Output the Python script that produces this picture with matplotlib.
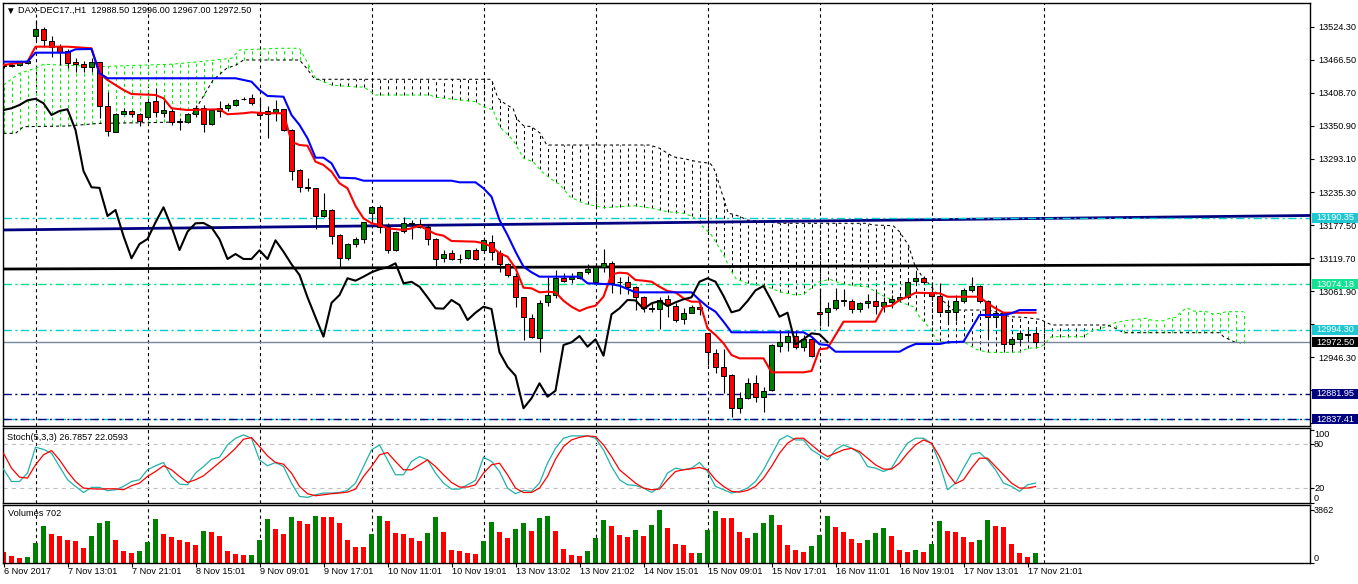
import numpy as np
import matplotlib
matplotlib.use("Agg")
import matplotlib.pyplot as plt
from matplotlib import transforms
from matplotlib.patches import Rectangle

plt.rcParams['font.family'] = ['Liberation Sans', 'DejaVu Sans']
plt.rcParams['lines.scale_dashes'] = False

# ---------------- data (hourly DAX-DEC17 bars, 6-17 Nov 2017) ----------------
opens = np.array([
    13458, 13456, 13457.8, 13461.3, 13509, 13520.8, 13500.3, 13489.8, 13482.3, 13463.5,
    13459, 13454.8, 13462.5, 13386.5, 13340.9, 13372.4, 13376.7, 13372.4, 13366.2, 13394.7,
    13374.2, 13377.7, 13360.2, 13358.4, 13371.4, 13383, 13353.9, 13377.7, 13381.9, 13387.7,
    13397.5, 13399.4, 13376, 13372.4, 13376, 13380.2, 13343.9, 13273.9, 13243.5, 13241.8,
    13193.8, 13203.8, 13159.9, 13119.2, 13143.7, 13153, 13199.1, 13208.5, 13173.5, 13133.7,
    13167, 13180, 13178.7, 13173.5, 13152.5, 13119.2, 13127.9, 13118.5, 13119.2, 13133.2,
    13133.7, 13148.3, 13127.9, 13108.7, 13088.7, 13050.9, 13014.1, 12980.2, 13043.2, 13054.9,
    13084.2, 13082.4, 13084.2, 13094.7, 13078.2, 13103.4, 13110.4, 13078.5, 13078.2, 13069.4,
    13050.9, 13031.5, 13030.4, 13047.9, 13036.2, 13012.9, 13023.9, 13034.4, 12987.8, 12952.8,
    12929.3, 12914.8, 12856.5, 12874, 12900.3, 12876.8, 12888.5, 12966.1, 12973.1, 12983.1,
    12964.4, 12977.8, 13024.6, 13025.7, 13031.6, 13045, 13045, 13030.4, 13040.4, 13044.4,
    13035.6, 13042.1, 13047.4, 13050.9, 13080, 13084.2, 13060.7, 13053.2, 13024.6, 13025.7,
    13044.4, 13063.1, 13070.7, 13045, 13015.9, 13023.9, 12968.6, 12977.3, 12985.5, 12988.5])
highs = np.array([
    13461, 13461, 13465, 13470, 13536.6, 13524.8, 13508.5, 13494, 13485.8, 13470,
    13464.8, 13470, 13463.5, 13411, 13373.7, 13381.9, 13378.9, 13374.2, 13396.4, 13417.5,
    13396.4, 13380.2, 13364.9, 13373.2, 13387.7, 13387.7, 13380, 13394.7, 13390.7, 13397.7,
    13402.2, 13407, 13400, 13386.5, 13396.4, 13381, 13345, 13275.6, 13259.8, 13242.3,
    13233.6, 13205.5, 13161, 13146, 13157, 13183.3, 13209.6, 13212.5, 13180.5, 13167,
    13192.1, 13186.3, 13188, 13178.7, 13154.2, 13133.7, 13133.7, 13126.2, 13133.7, 13136.7,
    13157, 13160, 13133.7, 13111, 13092.9, 13052, 13021.6, 13046.2, 13087, 13098.7,
    13092.9, 13092.9, 13095.7, 13108.7, 13110.4, 13135, 13115, 13087, 13088.7, 13071.2,
    13053.2, 13040.4, 13052, 13054.9, 13040.4, 13031.6, 13037.4, 13037.4, 12989, 12959.8,
    12959.8, 12916, 12884.5, 12909, 12914.8, 12893.2, 12968.5, 12993.6, 12993.6, 12993.6,
    12984.9, 12981.9, 13066.6, 13042.1, 13067.7, 13065.4, 13047.9, 13043.2, 13056.1, 13060.7,
    13052, 13054.9, 13053.7, 13081.2, 13092.9, 13088.7, 13078.2, 13075.4, 13046.2, 13054.9,
    13066.6, 13087, 13072.4, 13046.2, 13037.4, 13025.7, 12981.9, 12993.6, 12993.6, 12996])
lows = np.array([
    13452, 13454, 13456, 13459, 13501.5, 13489.8, 13471.2, 13457.8, 13452.5, 13446,
    13446, 13446, 13364.4, 13333.9, 13339.9, 13371.4, 13367.2, 13350.9, 13364.4, 13367.2,
    13367.2, 13352.7, 13343.9, 13355.6, 13367.2, 13340.9, 13352.7, 13367.2, 13377.2, 13386.5,
    13395.9, 13387.7, 13367.2, 13329.4, 13359.7, 13342.1, 13256.3, 13235.9, 13237.1, 13170.5,
    13192.1, 13144.2, 13102.7, 13116.2, 13138.4, 13145.5, 13181, 13163, 13128, 13132,
    13163, 13153, 13171.7, 13142.5, 13106.2, 13112.2, 13116.2, 13110.4, 13118, 13116.2,
    13130.8, 13116.2, 13095.7, 13085.9, 13034.4, 12976.1, 12979.1, 12955.6, 13036.2, 13050.2,
    13078.2, 13075.4, 13083, 13091.7, 13075.4, 13095.7, 13057.9, 13056.1, 13056.1, 13028.6,
    13025.7, 13025.7, 12994.8, 13016.9, 13008.2, 13003.6, 13022.9, 13019.9, 12932.3, 12917.8,
    12882.7, 12841.8, 12847.7, 12872.8, 12868, 12850.5, 12886.8, 12954.5, 12957.3, 12959.8,
    12957.3, 12946.9, 13001.1, 13001.1, 13028.6, 13036.2, 13022.9, 13024.6, 13031.6, 13021.6,
    13025.7, 13031.6, 13044.4, 13049.1, 13075.4, 13073.6, 13046.2, 13022.9, 13003.6, 13009.4,
    13040.4, 13060.7, 13040.4, 12979.1, 12999.4, 12959.8, 12959.8, 12970.4, 12977, 12967])
closes = np.array([
    13456, 13458, 13463.5, 13465, 13520.8, 13501.5, 13488.8, 13481, 13460.7, 13459.5,
    13454.8, 13462.5, 13385.9, 13342.1, 13372.4, 13377.2, 13372.4, 13359.7, 13392.4, 13374.9,
    13378.4, 13358.4, 13357.4, 13371.4, 13383, 13353.9, 13378.9, 13381.9, 13387.7, 13395.9,
    13398.5, 13390.7, 13370.2, 13377.2, 13380.2, 13343.9, 13272.1, 13243.6, 13242.5, 13193.3,
    13203.8, 13158.2, 13119.2, 13144.2, 13153, 13182.2, 13208.5, 13174.5, 13133.7, 13165.8,
    13180.5, 13181, 13173.5, 13152.5, 13118, 13126.7, 13118, 13118, 13133.2, 13118,
    13150.7, 13130.8, 13108.7, 13090, 13050.9, 13015.9, 12981.9, 13041.1, 13054.9, 13084.2,
    13080, 13087, 13094.7, 13100, 13103.4, 13110.4, 13075.4, 13078, 13069.4, 13050.9,
    13031.6, 13031, 13046.2, 13037.4, 13011.1, 13023.9, 13034.4, 13030.4, 12954.5, 12929.3,
    12913.6, 12856.5, 12874, 12900.3, 12876.8, 12887.3, 12967.3, 12972.1, 12983.1, 12964.4,
    12977.3, 12948.6, 13021.1, 13031.6, 13046.2, 13045.5, 13030.4, 13040.4, 13044.4, 13035.6,
    13042.1, 13047.4, 13050.9, 13078.2, 13084.2, 13078.2, 13053.2, 13024.6, 13028.6, 13044.4,
    13063.1, 13070.7, 13045, 13016.9, 13023.9, 12968.6, 12977.3, 12987.8, 12986, 12972.5])
volumes = np.array([
    782, 489, 367, 415, 1442, 2688, 2102, 1955, 1686, 1589,
    1075, 1955, 2908, 3055, 1686, 855, 709, 855, 1515, 3202,
    2102, 1882, 1662, 1515, 1295, 2322, 2248, 1955, 855, 635,
    562, 587, 1662, 3202, 2468, 2102, 3348, 3055, 2835, 3422,
    3348, 3324, 2908, 1662, 1149, 1140, 2102, 3422, 3055, 2175,
    2102, 1809, 1589, 2175, 3348, 2248, 929, 855, 709, 635,
    1589, 2982, 2248, 1809, 2468, 2908, 2322, 3275, 3422, 2322,
    1026, 562, 489, 855, 1809, 3128, 2688, 2028, 1882, 2395,
    1955, 2762, 3862, 2542, 1369, 1295, 709, 733, 2395, 3788,
    3275, 3270, 2248, 1809, 2175, 2908, 3495, 2762, 1295, 929,
    782, 1222, 2028, 3422, 2615, 2248, 1735, 1442, 1662, 2175,
    2542, 1955, 929, 782, 929, 782, 1369, 3055, 2322, 2248,
    1882, 1540, 1662, 3128, 2688, 2615, 1369, 709, 415, 702])
stoch_k = np.array([
    45.9, 29, 29, 40.5, 75.9, 73, 67.7, 49.5, 31.4, 22.3,
    14, 21, 21, 16.4, 17.7, 22.3, 29, 31.4, 45, 50.5,
    55, 35.9, 25.5, 24.5, 40.5, 49.5, 59.5, 62.3, 79, 88.2,
    92.7, 88.2, 58.6, 50.5, 55, 49.5, 26.8, 8.6, 7.3, 10.9,
    13.2, 13.2, 14, 16.8, 26.8, 49.5, 72.3, 79, 58.6, 38.2,
    38.2, 56.4, 63.2, 58.6, 40.5, 26.8, 18.6, 18.6, 24.5, 30.5,
    62.3, 56.4, 42.7, 20, 12.3, 16.8, 15.5, 26.8, 54.1, 74.5,
    88.2, 91.4, 91.4, 91.4, 88.2, 72.3, 49.5, 31.4, 24.5, 23.6,
    20, 14.1, 20.9, 40.5, 47.3, 45, 47.3, 55, 42.7, 22.3,
    17.7, 13.2, 15.5, 20, 29.1, 45, 65.5, 85.9, 91.8, 85.9,
    85.9, 72.3, 65.5, 58.6, 72.3, 79.1, 74.5, 67.7, 49.5, 47.3,
    42.7, 47.3, 65.5, 81.4, 88.2, 88.2, 81.4, 54.1, 17.7, 26.8,
    47.3, 66.4, 68.6, 58.6, 45, 26.8, 22.3, 15.5, 24.5, 26.79])
stoch_d = np.array([
    67.7, 47.3, 35, 33.6, 51.8, 65.5, 71.4, 58.6, 42.7, 29,
    20, 19, 18.6, 19, 19, 17.7, 23.2, 26.8, 35.9, 42.7,
    50.5, 45, 35.9, 27.7, 31.4, 36.8, 45.9, 55, 64.1, 74.5,
    86.8, 89.1, 76.8, 64.1, 55, 52.7, 40.5, 22.3, 12.3, 9.5,
    10.9, 12.3, 13.2, 14.5, 18.6, 35.9, 49.5, 65.5, 68.6, 56.4,
    45, 45, 51.8, 58.6, 49.5, 38.2, 27.7, 21.4, 21.4, 24.5,
    40.5, 51.8, 54.1, 38.2, 20, 14, 14, 20, 36, 59.5,
    76.8, 85.9, 89.5, 91.4, 90.5, 79.1, 63.2, 45, 35.9, 26.8,
    20, 17.7, 18.6, 31.4, 42.7, 45, 46.4, 48.2, 45, 31.4,
    22.3, 15.5, 14.5, 16.8, 22.3, 33.6, 49.5, 67.7, 81.4, 88.2,
    88.2, 79.1, 70, 63.2, 67.7, 72.3, 74.5, 70, 60.9, 51.8,
    45.9, 45.9, 54.1, 67.7, 79.1, 85.9, 81.4, 63.2, 40.5, 25.9,
    31.4, 47.3, 60.9, 60.9, 49.5, 38.2, 26.8, 20, 20, 22.06])

# Ichimoku lines, read as (bar, price) vertices
tenkan_bar = [0, 3, 4, 8, 11, 12, 13, 15, 16, 19, 20, 21, 23, 27, 28, 30, 31, 33, 35, 36, 37, 38, 39, 40,
              41, 42, 43, 44, 45, 46, 47, 48, 50, 51, 52, 53, 54, 55, 56, 59, 60, 61, 62, 63, 64, 65,
              66, 67, 68, 69, 70, 71, 72, 73, 74, 75, 76, 77, 78, 79, 80, 81, 82, 83, 84, 85, 86, 87,
              88, 89, 90, 91, 92, 95, 96, 100, 101, 102, 103, 104, 105, 109, 110, 111, 112, 113, 114,
              117, 118, 122, 123, 124, 125, 129]
tenkan_val = [13457.8, 13463.5, 13489.8, 13489.8, 13487.0, 13443.2, 13431.5, 13413.9, 13406.9, 13405.2,
              13399.4, 13381.9, 13378.9, 13380.2, 13371.4, 13373.2, 13374.9, 13373.2, 13373.2, 13323.4,
              13317.6, 13316.4, 13288.4, 13282.6, 13270.9, 13250.6, 13241.8, 13210.8, 13189.2, 13180.5,
              13177.5, 13171.7, 13168.8, 13171.7, 13176.3, 13168.8, 13161.7, 13158.8, 13149.5, 13148.3,
              13145.5, 13139.5, 13128.0, 13122.0, 13101.7, 13067.7, 13066.6, 13059.6, 13060.7, 13059.6,
              13044.9, 13034.4, 13026.9, 13032.7, 13036.2, 13051.9, 13091.2, 13094.0, 13092.9, 13081.2,
              13080.0, 13078.2, 13069.4, 13061.9, 13059.6, 13049.1, 13043.2, 13043.2, 12996.6, 12984.9,
              12970.3, 12949.8, 12944.0, 12944.0, 12919.5, 12919.5, 12921.8, 12959.8, 12961.5, 12984.9,
              13008.2, 13008.2, 13034.4, 13036.2, 13046.2, 13051.9, 13058.9, 13057.9, 13051.9, 13051.9,
              13040.4, 13031.6, 13023.9, 13023.9]
kijun_bar = [0, 3, 4, 8, 9, 11, 12, 13, 29, 31, 32, 33, 35, 36, 37, 38, 39, 40, 41, 42, 44, 45, 56, 57,
             59, 60, 61, 62, 63, 64, 65, 66, 67, 72, 73, 76, 77, 78, 79, 86, 87, 88, 89, 90, 91, 100,
             101, 102, 103, 104, 112, 113, 114, 117, 118, 120, 121, 122, 125, 126, 127, 129]
kijun_val = [13463.5, 13463.5, 13479.3, 13479.3, 13485.2, 13485.8, 13443.2, 13434.5, 13434.5, 13428.5,
             13413.9, 13403.5, 13402.2, 13370.2, 13352.7, 13329.4, 13295.4, 13295.4, 13285.6, 13260.4,
             13259.3, 13255.1, 13255.1, 13252.3, 13252.3, 13241.8, 13227.1, 13186.3, 13160.0, 13130.8,
             13104.5, 13094.7, 13087.0, 13087.0, 13075.4, 13073.6, 13071.2, 13065.4, 13059.6, 13059.6,
             13046.2, 13034.4, 13025.7, 13008.2, 12989.6, 12989.6, 12981.9, 12968.6, 12967.3, 12955.6,
             12955.6, 12963.3, 12969.1, 12969.1, 12972.1, 12973.1, 12996.6, 13019.9, 13019.9, 13022.9,
             13028.6, 13028.6]
span_a_bar = [0, 2, 4, 5, 12, 18, 21, 24.5, 28.5, 29.5, 34.5, 37, 37.7, 39, 41, 44.5, 45, 46.5, 53.3,
              54, 59, 60, 61.2, 62, 63.7, 65, 66.2, 67.3, 68.3, 69.6, 70.8, 72.5, 75, 79, 81, 83, 85,
              86.2, 87, 88.5, 90, 91, 91.6, 93, 95, 96, 97, 99, 100, 102, 103.3, 104.6, 106.2, 108,
              109, 110.4, 112, 113.7, 114.5, 115.8, 116.6, 118, 120, 121.6, 123, 125.8, 127, 128,
              129.6, 130.2, 131, 135, 136.2, 137, 138.3, 139.1, 140.8, 142.9, 143.7, 145, 145.8,
              146.6, 147, 147.9, 148.7, 150.4, 151.2, 152, 152.9, 155]
span_a_val = [13422.7, 13443.2, 13452.0, 13459.0, 13454.8, 13457.8, 13459.0, 13463.5, 13469.5, 13484.0,
              13487.0, 13487.0, 13469.5, 13434.5, 13422.7, 13418.7, 13419.7, 13405.2, 13405.2, 13401.2,
              13393.5, 13384.7, 13378.9, 13349.7, 13326.4, 13294.3, 13288.4, 13270.9, 13259.3, 13247.6,
              13227.1, 13215.5, 13207.8, 13211.3, 13206.8, 13200.8, 13198.0, 13192.1, 13180.5, 13160.0,
              13125.0, 13095.7, 13082.9, 13075.4, 13071.2, 13066.6, 13060.7, 13054.9, 13056.1, 13078.2,
              13082.4, 13075.4, 13071.2, 13069.4, 13060.7, 13050.2, 13043.2, 13034.4, 13016.9, 12996.6,
              12976.1, 12970.3, 12973.1, 12959.8, 12954.5, 12954.5, 12955.1, 12961.5, 12963.3, 12970.3,
              12981.9, 12981.9, 12993.6, 12994.8, 13002.4, 13007.1, 13011.1, 13014.1, 13009.9, 13009.9,
              13014.1, 13015.9, 13022.9, 13032.7, 13026.9, 13025.7, 13021.6, 13022.9, 13025.7, 13025.7]
span_b_bar = [0, 1.5, 2.5, 8, 12, 18, 23, 24.2, 26.2, 27.9, 29.1, 30, 37, 37.9, 38.9, 61, 61.8, 62.9,
              63.7, 64.1, 65, 66, 67.1, 67.9, 80.8, 82, 83.7, 85.4, 86.7, 88.3, 88.7, 89.1, 90, 90.6,
              91.2, 92.1, 92.9, 97.1, 107.9, 108.7, 111.2, 112, 113.1, 113.9, 114.7, 115.8, 117.1,
              118.7, 122.9, 123.7, 125.8, 127.5, 128.5, 129.5, 130.2, 131, 138, 139, 140, 152, 152.5,
              153.8, 155]
span_b_val = [13338.1, 13338.1, 13349.7, 13350.9, 13355.6, 13356.7, 13358.4, 13384.7, 13431.5, 13452.0,
              13457.8, 13466.5, 13466.5, 13452.0, 13432.7, 13432.7, 13399.4, 13387.7, 13381.9, 13364.4,
              13351.4, 13349.7, 13338.1, 13317.6, 13317.6, 13311.9, 13297.1, 13292.6, 13288.4, 13285.6,
              13279.6, 13265.1, 13224.3, 13198.0, 13196.3, 13192.1, 13186.3, 13180.5, 13180.5, 13177.5,
              13176.3, 13165.8, 13142.5, 13107.5, 13090.0, 13072.4, 13049.1, 13028.6, 13028.6, 13026.9,
              13016.9, 13015.9, 13014.1, 13012.4, 13008.2, 13002.4, 13002.4, 12996.6, 12988.9, 12988.9,
              12981.9, 12973.1, 12970.3]
chikou_shift = 26

# drawn objects: two trendlines (left/right end prices) and horizontal levels
trend_navy = [13168.8, 13194.2]
trend_black = [13100.4, 13108.3]
level_prices = [13190.35, 13074.18, 12994.30, 12881.95, 12837.41]
level_colors = ['#00CED1', '#00E08C', '#00CED1', '#000080', '#000080']
label_boxes = [(13190.35, '13190.35', '#1EC8D2'), (13074.18, '13074.18', '#10E394'),
               (12994.30, '12994.30', '#1EC8D2'), (12972.50, '12972.50', '#000000'),
               (12881.95, '12881.95', '#000080'), (12837.41, '12837.41', '#000080')]
bid = 12972.50

price_ticks = [13524.30, 13466.50, 13408.70, 13350.90, 13293.10, 13235.30, 13177.50,
               13119.70, 13061.90, 13004.10, 12946.30, 12888.50, 12830.70]
# tick labels that sit fully under a price box are left blank
hidden_ticks = [13004.10, 12888.50, 12830.70]
time_bars = [0, 8, 16, 24, 32, 40, 48, 56, 64, 72, 80, 88, 96, 104, 112, 120, 128]
time_labels = ['6 Nov 2017', '7 Nov 13:01', '7 Nov 21:01', '8 Nov 15:01', '9 Nov 09:01',
               '9 Nov 17:01', '10 Nov 11:01', '10 Nov 19:01', '13 Nov 13:02', '13 Nov 21:02',
               '14 Nov 15:01', '15 Nov 09:01', '15 Nov 17:01', '16 Nov 11:01', '16 Nov 19:01',
               '17 Nov 13:01', '17 Nov 21:01']
day_bars = [4, 18, 32, 46, 60, 74, 88, 102, 116, 130]

# ---------------- figure ----------------
W, H = 1358, 584
FS = 6.6
DOT = (0, (2.2, 2.2))
fig = plt.figure(figsize=(W / 100, H / 100), dpi=100)
fig.patch.set_facecolor('white')


def px_axes(left, top, right, bottom):
    return fig.add_axes([left / W, 1 - bottom / H, (right - left) / W, (bottom - top) / H])


def fig_text(x, y, s, size=FS, **kw):
    fig.text(x / W, 1 - y / H, s, fontsize=size, **kw)


ax = px_axes(3, 3, 1310, 426)
ax_st = px_axes(3, 428.3, 1310, 502.7)
ax_vol = px_axes(3, 505.3, 1310, 562.7)

x_lim = (-0.0625, 163.31)
for a in (ax, ax_st, ax_vol):
    a.set_xlim(*x_lim)
    a.set_facecolor('white')
    for s in a.spines.values():
        s.set_color('black')
        s.set_linewidth(1)
    a.set_xticks([])
    a.yaxis.tick_right()
    a.tick_params(axis='y', length=3, width=0.8, pad=3, labelsize=FS, colors='black')
    for g in day_bars:
        a.axvline(g, color='black', lw=0.8, ls=(0, (2.3, 2.3)), zorder=1)

ax.set_ylim(12825.5, 13566.3)
ax.set_yticks(price_ticks)
ax.set_yticklabels(['' if p in hidden_ticks else f'{p:.2f}' for p in price_ticks])

bars = np.arange(len(opens))

# cloud hatching between the two senkou spans
hatch_bars = np.arange(0, 156)
a_at = np.interp(hatch_bars, span_a_bar, span_a_val)
b_at = np.interp(hatch_bars, span_b_bar, span_b_val)
hatch_cols = ['#00EE00' if a >= b else 'black' for a, b in zip(a_at, b_at)]
ax.vlines(hatch_bars, np.minimum(a_at, b_at), np.maximum(a_at, b_at), colors=hatch_cols,
          lw=0.75, linestyles=[DOT], zorder=1.5)
ax.plot(span_a_bar, span_a_val, color='#00EE00', lw=0.75, ls=DOT, zorder=1.6)
ax.plot(span_b_bar, span_b_val, color='black', lw=0.75, ls=DOT, zorder=1.6)

# drawn lines
ax.plot(x_lim, trend_navy, color='#000080', lw=2, zorder=2)
ax.plot(x_lim, trend_black, color='black', lw=2, zorder=2)
for p, c in zip(level_prices, level_colors):
    ax.axhline(p, color=c, lw=1, ls=(0, (6, 2.5, 1.5, 2.5)), zorder=2)
ax.axhline(level_prices[-1], color='#00CED1', lw=1, ls=(0, (3, 3)), zorder=1.9)
ax.axhline(bid, color='#778899', lw=1, zorder=2)

# candles
body_cols = ['#008000' if c > o else '#FF0000' for o, c in zip(opens, closes)]
ax.vlines(bars, lows, highs, color='black', lw=0.8, zorder=3)
ax.bar(bars, np.abs(closes - opens), bottom=np.minimum(opens, closes), width=0.55,
       color=body_cols, edgecolor='black', linewidth=0.7, zorder=3.1)

# ichimoku lines
ax.plot(tenkan_bar, tenkan_val, color='#FF0000', lw=1.5, zorder=4)
ax.plot(kijun_bar, kijun_val, color='#0000FF', lw=1.5, zorder=4)
ax.plot(bars[:len(bars) - chikou_shift], closes[chikou_shift:], color='black', lw=1.5, zorder=4)

# price boxes on the right scale
box_tr = transforms.blended_transform_factory(fig.transFigure, ax.transData)
ppx = (13566.3 - 12825.5) / 423.0
for p, s, c in label_boxes:
    ax.add_patch(Rectangle((1312 / W, p - 5 * ppx), 46 / W, 10 * ppx, transform=box_tr,
                           facecolor=c, edgecolor='none', clip_on=False, zorder=10))
    ax.text(1335 / W, p, s, transform=box_tr, color='white', fontsize=FS,
            ha='center', va='center', clip_on=False, zorder=11)

# stochastic
ax_st.set_ylim(0.4, 101.8)
ax_st.set_yticks([100, 80, 20, 0])
ax_st.set_yticklabels([])
for lv in (80, 20):
    ax_st.axhline(lv, color='#C0C0C0', lw=0.8, ls=(0, (3, 3)), zorder=1)
ax_st.plot(bars, stoch_k, color='#20B2AA', lw=0.9, zorder=3)
ax_st.plot(bars, stoch_d, color='#FF0000', lw=0.9, zorder=3)
st_tr = transforms.blended_transform_factory(fig.transFigure, ax_st.transData)
for v, va in ((100, 'top'), (80, 'center'), (20, 'center'), (0, 'bottom')):
    ax_st.text(1314 / W, v, str(v), transform=st_tr, fontsize=FS, ha='left', va=va, clip_on=False)

# volumes
vol_cols = ['#FF0000'] + ['#008000' if v > pv else '#FF0000'
                         for pv, v in zip(volumes[:-1], volumes[1:])]
ax_vol.set_ylim(0, 4175)
ax_vol.set_yticks([3862, 0])
ax_vol.set_yticklabels([])
ax_vol.bar(bars, volumes, width=0.62, color=vol_cols, zorder=2)
vol_tr = transforms.blended_transform_factory(fig.transFigure, ax_vol.transAxes)
ax_vol.text(1314 / W, 0.99, '3862', transform=vol_tr, fontsize=FS, ha='left', va='top', clip_on=False)
ax_vol.text(1314 / W, 0.0, '0', transform=vol_tr, fontsize=FS, ha='left', va='bottom', clip_on=False)

# time scale
ax_vol.set_xticks(time_bars)
ax_vol.tick_params(axis='x', length=3, width=0.8, labelbottom=False)
for b, s in zip(time_bars, time_labels):
    fig_text(3.5 + 8 * b + 0.5, 572, s, ha='left', va='center')

# panel captions
fig_text(10, 10.5, '\u25bc', size=7, ha='center', va='center')
fig_text(18, 10.5, 'DAX-DEC17.,H1  12988.50 12996.00 12967.00 12972.50', ha='left', va='center')
fig_text(7, 437, 'Stoch(5,3,3) 26.7857 22.0593', ha='left', va='center')
fig_text(8, 514, 'Volumes 702', ha='left', va='center')

fig.savefig('out.png', dpi=100, facecolor='white')
